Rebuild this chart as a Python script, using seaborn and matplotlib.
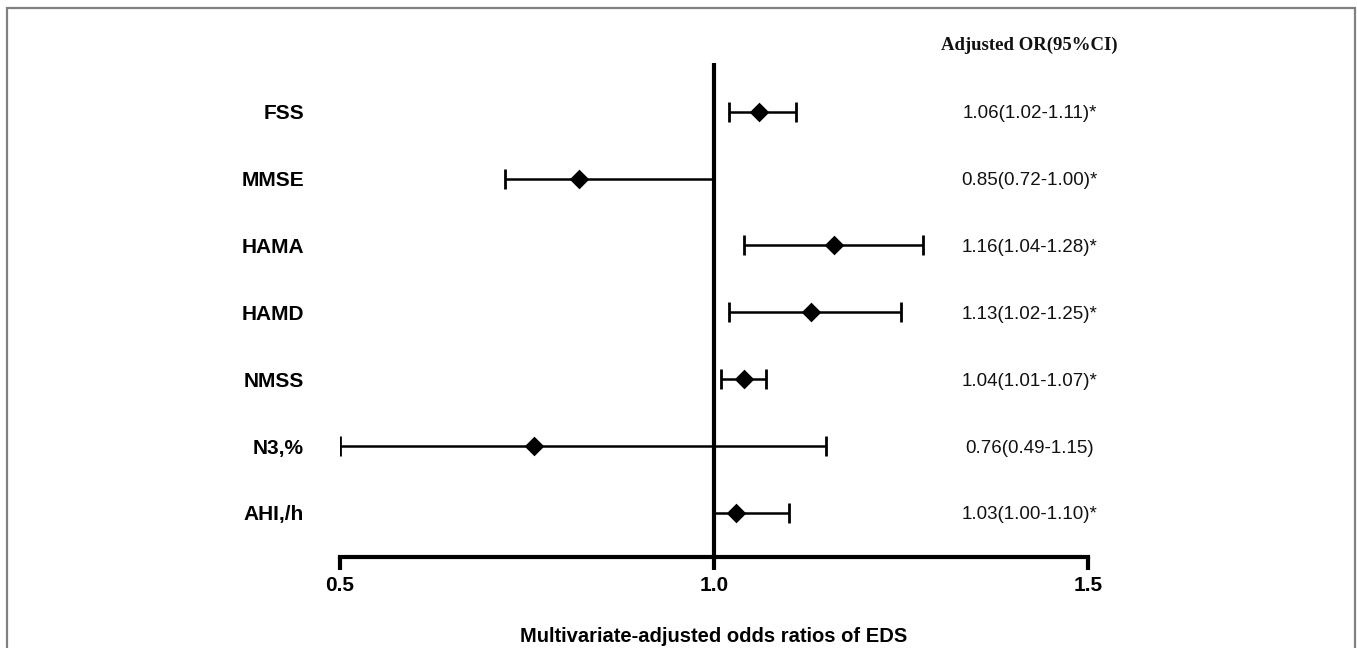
import numpy as np
import pandas as pd
import matplotlib
matplotlib.use("Agg")
import matplotlib.pyplot as plt
import seaborn as sns
from matplotlib.patches import Rectangle
from matplotlib.transforms import blended_transform_factory

# данные
variables = ["FSS", "MMSE", "HAMA", "HAMD", "NMSS", "N3,%", "AHI,/h"]
odds_ratio = [1.06, 0.82, 1.16, 1.13, 1.04, 0.76, 1.03]
ci_low = [1.02, 0.72, 1.04, 1.02, 1.01, 0.50, 1.00]
ci_high = [1.11, 1.00, 1.28, 1.25, 1.07, 1.15, 1.10]
or_labels = [
    "1.06(1.02-1.11)*",
    "0.85(0.72-1.00)*",
    "1.16(1.04-1.28)*",
    "1.13(1.02-1.25)*",
    "1.04(1.01-1.07)*",
    "0.76(0.49-1.15)",
    "1.03(1.00-1.10)*",
]
x_ticks = [0.5, 1.0, 1.5]

df = pd.DataFrame({
    "variable": variables,
    "pos": np.arange(len(variables)),
    "or": odds_ratio,
    "low": ci_low,
    "high": ci_high,
})

sns.set_theme(style="white")
plt.rcParams["font.family"] = ["Liberation Sans", "DejaVu Sans"]
plt.rcParams["text.color"] = "black"
plt.rcParams["xtick.color"] = "black"
plt.rcParams["ytick.color"] = "black"

fig = plt.figure(figsize=(13.57, 6.48), dpi=100)
ax = fig.add_axes([340 / 1357, 1 - 557 / 648, 748 / 1357, 494 / 648])

# доверительные интервалы
ax.errorbar(
    df["or"], df["pos"],
    xerr=[df["or"] - df["low"], df["high"] - df["or"]],
    fmt="none", ecolor="black", elinewidth=1.8, capsize=7.5, capthick=2,
    zorder=2,
)
# точечные оценки (ромбы)
sns.scatterplot(data=df, x="or", y="pos", marker="D", s=100, color="black",
                edgecolor="black", linewidth=0, ax=ax, zorder=3, legend=False)

ax.axvline(1.0, color="black", linewidth=3, zorder=1)

ax.set_xlim(0.5, 1.5)
ax.set_ylim(len(variables) - 1 + 0.66, -0.73)

ax.set_xticks(x_ticks)
ax.set_xticklabels([f"{t:.1f}" for t in x_ticks], fontsize=15, fontweight="bold")
ax.set_yticks(df["pos"])
ax.set_yticklabels(df["variable"], fontsize=15, fontweight="bold")
ax.tick_params(axis="y", left=False, length=0, pad=26, labelcolor="black")
ax.tick_params(axis="x", bottom=True, direction="out", length=9, width=3,
               color="black", labelcolor="black", pad=5)

for side in ["left", "right", "top"]:
    ax.spines[side].set_visible(False)
ax.spines["bottom"].set_linewidth(3)
ax.spines["bottom"].set_color("black")

ax.set_xlabel("")
ax.set_ylabel("")
fig.text((340 + 748 / 2) / 1357, 1 - 637 / 648,
         "Multivariate-adjusted odds ratios of EDS", ha="center", va="center",
         fontsize=14.5, fontweight="bold", color="black")

# столбец с OR (95% ДИ)
trans = blended_transform_factory(ax.transAxes, ax.transData)
for p, lab in zip(df["pos"], or_labels):
    ax.text(0.922, p, lab, transform=trans, ha="center", va="center_baseline",
            fontsize=13.5, color="#111111")
ax.text(0.922, 1.036, "Adjusted OR(95%CI)", transform=ax.transAxes,
        ha="center", va="center", fontsize=13.5, fontweight="bold",
        family=["Liberation Serif", "DejaVu Serif"], color="#111111")

# серая рамка вокруг рисунка
fig.patches.append(Rectangle((7 / 1357, -0.02), 1348 / 1357, 1.02 - 8 / 648,
                             transform=fig.transFigure, fill=False,
                             edgecolor="#808080", linewidth=1.6))

fig.savefig("out.png", dpi=100)
plt.close(fig)
